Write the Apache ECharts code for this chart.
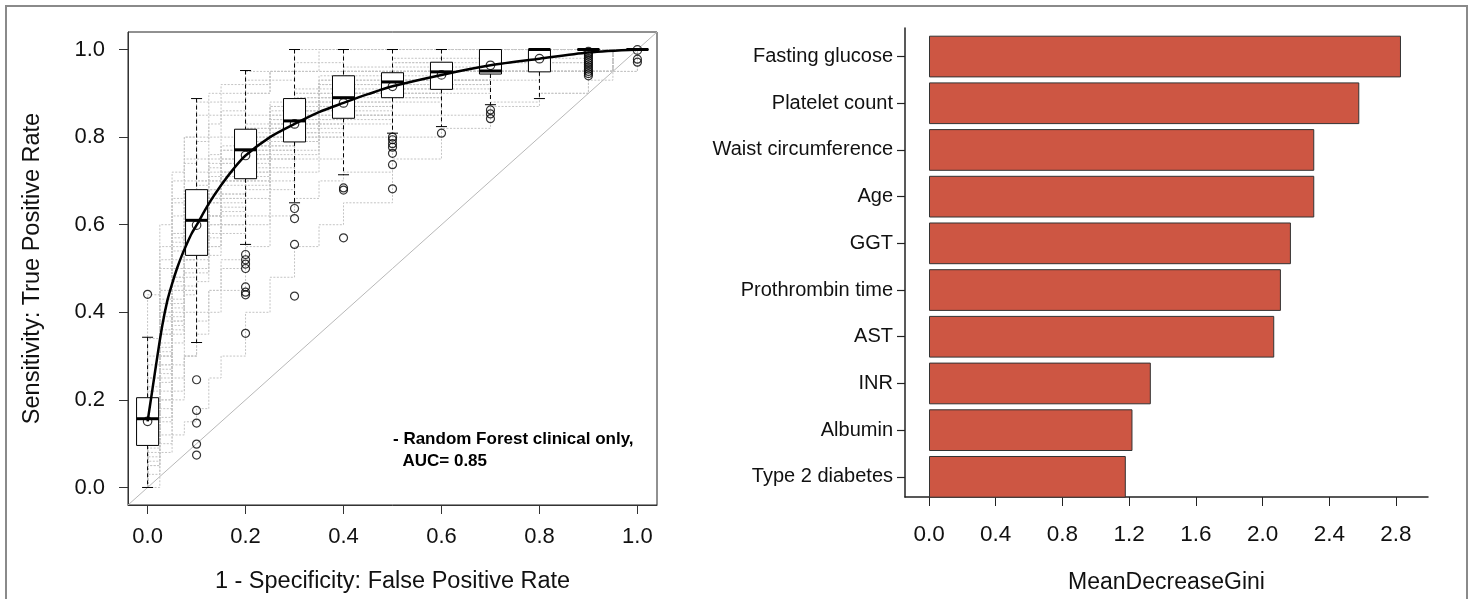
<!DOCTYPE html>
<html><head><meta charset="utf-8">
<script src="https://cdn.jsdelivr.net/npm/echarts@6/dist/echarts.min.js"></script>
<style>html,body{margin:0;padding:0;background:#fff}#c{width:1473px;height:599px}</style>
</head><body><div id="c"></div>
<script>
// ---------- Data ----------
const rocFpr = [0,0.025,0.05,0.075,0.1,0.125,0.15,0.2,0.25,0.3,0.35,0.4,0.5,0.6,0.7,0.8,0.9,0.95,1];
const rocTpr = [
  [.15,.35,.50,.58,.62,.68,.72,.78,.82,.85,.88,.90,.93,.95,.95,1,1,1,1],
  [.10,.25,.40,.50,.55,.60,.65,.72,.78,.80,.83,.85,.90,.92,.95,.95,1,1,1],
  [.20,.40,.55,.62,.68,.72,.75,.80,.85,.88,.92,.95,.95,.95,.95,.95,.95,1,1],
  [.05,.18,.33,.45,.53,.58,.62,.70,.75,.79,.82,.85,.89,.92,.95,1,1,1,1],
  [.25,.45,.62,.70,.75,.80,.85,.90,.95,.95,.95,.95,.95,.95,.95,.95,.95,1,1],
  [0,.10,.20,.30,.40,.45,.50,.60,.68,.72,.75,.80,.85,.90,.93,.95,1,1,1],
  [.16,.30,.45,.55,.60,.65,.70,.76,.80,.84,.87,.90,.92,.95,1,1,1,1,1],
  [.34,.55,.70,.80,.88,.90,.92,.95,.95,1,1,1,1,1,1,1,1,1,1],
  [.12,.28,.42,.52,.58,.62,.66,.74,.79,.83,.86,.89,.93,.95,.95,.95,.95,1,1],
  [.08,.15,.25,.30,.35,.40,.45,.55,.62,.66,.70,.72,.80,.85,.88,.90,.95,.95,1],
  [.18,.38,.52,.60,.65,.70,.74,.80,.84,.87,.90,.93,.95,.97,1,1,1,1,1],
  [.22,.42,.58,.65,.70,.75,.78,.82,.87,.90,.93,.95,.97,1,1,1,1,1,1],
  [.05,.08,.12,.15,.18,.25,.30,.40,.48,.55,.60,.65,.75,.82,.87,.90,.93,.95,1],
  [.44,.60,.72,.80,.85,.88,.90,.93,.95,.95,.95,.95,.95,.95,.95,.95,.95,1,1],
  [.13,.32,.48,.57,.61,.66,.70,.77,.82,.85,.88,.90,.93,.95,.97,1,1,1,1],
  [.10,.22,.36,.46,.52,.57,.63,.71,.77,.81,.85,.88,.92,.95,.95,.95,.95,1,1],
  [.18,.36,.50,.60,.66,.70,.74,.79,.83,.86,.89,.91,.94,.96,1,1,1,1,1],
  [.28,.50,.65,.75,.80,.85,.88,.92,.95,.97,1,1,1,1,1,1,1,1,1],
  [.15,.30,.43,.52,.57,.62,.67,.75,.80,.84,.87,.90,.95,.95,.95,.95,.95,1,1],
  [.09,.20,.35,.48,.56,.62,.66,.72,.77,.80,.84,.87,.91,.93,.95,.98,1,1,1],
  [.20,.35,.48,.57,.63,.68,.72,.77,.81,.85,.89,.92,.95,.95,.95,.95,.95,1,1],
  [.15,.28,.38,.45,.50,.55,.60,.68,.73,.77,.80,.83,.88,.91,.95,1,1,1,1],
  [.25,.45,.58,.66,.72,.76,.80,.85,.88,.91,.94,.96,.98,1,1,1,1,1,1],
  [.03,.12,.22,.30,.38,.45,.52,.62,.70,.75,.80,.84,.89,.93,.95,.95,.95,1,1],
  [.12,.30,.45,.55,.62,.67,.72,.78,.83,.86,.89,.92,.95,.95,.95,.95,.95,1,1],
  [.20,.40,.56,.65,.70,.74,.77,.83,.87,.90,.92,.95,.97,1,1,1,1,1,1],
  [.07,.20,.38,.50,.57,.62,.67,.73,.78,.82,.85,.88,.92,.95,.95,1,1,1,1],
  [.17,.33,.47,.56,.61,.66,.70,.76,.82,.86,.90,.93,.95,.95,.95,.95,.95,1,1],
  [.30,.52,.66,.74,.79,.83,.86,.90,.93,.95,.97,1,1,1,1,1,1,1,1],
  [.10,.26,.41,.52,.60,.65,.69,.75,.80,.83,.87,.90,.93,.95,.97,.97,1,1,1],
  [.14,.27,.37,.44,.49,.55,.60,.69,.75,.79,.83,.86,.90,.93,.95,.95,.95,1,1],
  [.19,.39,.54,.63,.68,.71,.75,.81,.85,.89,.93,.95,.95,.95,.95,.95,.95,1,1],
  [.06,.16,.28,.40,.47,.53,.58,.66,.72,.76,.81,.85,.90,.93,.95,.97,1,1,1],
  [.23,.43,.57,.64,.69,.73,.77,.82,.86,.89,.91,.94,.96,.98,1,1,1,1,1],
  [.16,.31,.46,.56,.62,.66,.71,.78,.84,.88,.92,.95,.95,.95,.95,.95,.95,1,1],
  [.11,.24,.39,.49,.55,.60,.64,.70,.76,.81,.84,.87,.91,.95,.95,.95,.95,1,1]
];
const boxFpr    = [0,0.1,0.2,0.3,0.4,0.5,0.6,0.7,0.8,0.9,1.0];
const boxLow    = [0,0.331,0.555,0.650,0.714,0.809,0.824,0.874,0.888,1,1];
const boxQ1     = [0.096,0.530,0.705,0.789,0.843,0.890,0.909,0.944,0.949,1,1];
const boxMedian = [0.157,0.610,0.771,0.837,0.890,0.926,0.949,0.951,1,1,1];
const boxQ3     = [0.205,0.680,0.818,0.888,0.940,0.947,0.971,1,1,1,1];
const boxHigh   = [0.343,0.888,0.952,1,1,1,1,1,1,1,1];
const meanTpr   = [0.151,0.599,0.758,0.830,0.878,0.916,0.942,0.964,0.979,0.995,0.999];
const outlierFpr = [0, 0.1,0.1,0.1,0.1,0.1, 0.2,0.2,0.2,0.2,0.2,0.2,0.2,0.2, 0.3,0.3,0.3,0.3, 0.4,0.4,0.4,
  0.5,0.5,0.5,0.5,0.5,0.5,0.5, 0.6, 0.7,0.7,0.7, 0.9,0.9,0.9,0.9,0.9,0.9,0.9,0.9,0.9,0.9,0.9, 1.0,1.0];
const outlierTpr = [0.441, 0.246,0.176,0.147,0.099,0.074, 0.532,0.520,0.510,0.500,0.458,0.446,0.440,0.352,
  0.637,0.614,0.555,0.437, 0.684,0.679,0.570, 0.800,0.794,0.785,0.777,0.763,0.737,0.682, 0.809,
  0.862,0.853,0.842, 0.940,0.945,0.950,0.955,0.960,0.965,0.970,0.975,0.980,0.985,0.990, 0.978,0.971];
const meanCurveFpr = [0,0.01,0.02,0.03,0.04,0.05,0.06,0.07,0.08,0.09,0.1,0.125,0.15,0.175,0.2,0.25,0.3,0.35,0.4,0.45,0.5,0.6,0.7,0.8,0.9,1.0];
const meanCurveTpr = [0.151,0.225,0.30,0.37,0.425,0.465,0.50,0.53,0.556,0.58,0.599,0.648,0.69,0.727,0.758,0.80,0.830,0.857,0.878,0.898,0.916,0.942,0.964,0.979,0.993,1.0];
const diagonal = [-0.04, 1.04];
const rocTicks = [0,0.2,0.4,0.6,0.8,1.0];

const features = ['Fasting glucose','Platelet count','Waist circumference','Age','GGT','Prothrombin time','AST','INR','Albumin','Type 2 diabetes'];
const giniValues = [2.83,2.58,2.31,2.31,2.17,2.11,2.07,1.33,1.22,1.18];
const giniTicks = [0,0.4,0.8,1.2,1.6,2.0,2.4,2.8];

// ---------- Style ----------
const FF = 'Liberation Sans, Arial, Helvetica, sans-serif';
const TXT = '#111';
const BOX_W = 0.045;

const chart = echarts.init(document.getElementById('c'), null, {renderer:'canvas'});

const rocSeries = rocTpr.map(t => ({
  type:'line', xAxisIndex:0, yAxisIndex:0,
  data: [[0,0]].concat(rocFpr.map((f,j)=>[f,t[j]])),
  step:'end', symbol:'none', silent:true, z:1,
  lineStyle:{color:'#c4c4c4', width:1, type:[2,1.5]}
}));

const option = {
  animation:false,
  backgroundColor:'#fff',
  title:{
    text:'- Random Forest clinical only,\n  AUC= 0.85',
    left:393, top:428, padding:0,
    textStyle:{fontFamily:FF, fontSize:17, fontWeight:'bold', lineHeight:22, color:'#000'}
  },
  graphic:[{type:'rect', shape:{x:6,y:6,width:1461,height:640}, style:{fill:'none', stroke:'#8a8a8a', lineWidth:2}, silent:true}],
  grid:[
    {left:128, top:32, width:529, height:474.7, show:true, borderColor:'#222', borderWidth:1, backgroundColor:'transparent'},
    {left:905, top:28, width:523, height:475},
    {left:905, top:33.2, width:523, height:467}
  ],
  xAxis:[
    {gridIndex:0, type:'value', min:-0.04, max:1.04,
     axisLine:{show:true, onZero:false, lineStyle:{color:'#333', width:1}},
     axisTick:{show:true, length:9, customValues:rocTicks, lineStyle:{color:'#333'}},
     axisLabel:{customValues:rocTicks, formatter:v=>v.toFixed(1), fontFamily:FF, fontSize:22, color:TXT, margin:21},
     splitLine:{show:false},
     name:'1 - Specificity: False Positive Rate', nameLocation:'middle', nameGap:65,
     nameTextStyle:{fontFamily:FF, fontSize:23.5, color:TXT}},
    {gridIndex:1, type:'value', min:-0.144, max:2.992,
     axisLine:{show:true, onZero:false, lineStyle:{color:'#222', width:1.5}},
     axisTick:{show:true, length:9, customValues:giniTicks, lineStyle:{color:'#222'}},
     axisLabel:{customValues:giniTicks, formatter:v=>v.toFixed(1), fontFamily:FF, fontSize:22.5, color:TXT, margin:26},
     splitLine:{show:false},
     name:'MeanDecreaseGini', nameLocation:'middle', nameGap:74,
     nameTextStyle:{fontFamily:FF, fontSize:23, color:TXT}},
    {gridIndex:2, type:'value', min:-0.144, max:2.992, show:false, axisLine:{onZero:false}, splitLine:{show:false}}
  ],
  yAxis:[
    {gridIndex:0, type:'value', min:-0.04, max:1.04,
     axisLine:{show:true, onZero:false, lineStyle:{color:'#333', width:1}},
     axisTick:{show:true, length:9, customValues:rocTicks, lineStyle:{color:'#333'}},
     axisLabel:{customValues:rocTicks, formatter:v=>v.toFixed(1), fontFamily:FF, fontSize:22, color:TXT, margin:23},
     splitLine:{show:false},
     name:'Sensitivity: True Positive Rate', nameLocation:'middle', nameGap:83,
     nameTextStyle:{fontFamily:FF, fontSize:23.5, color:TXT}},
    {gridIndex:1, type:'value', min:0, max:1,
     axisLine:{show:true, onZero:false, lineStyle:{color:'#222', width:1.5}},
     axisTick:{show:false}, axisLabel:{show:false}, splitLine:{show:false}},
    {gridIndex:2, type:'category', data:features, inverse:true,
     axisLine:{show:false, onZero:false},
     axisTick:{show:true, alignWithLabel:true, length:8, interval:0, lineStyle:{color:'#222', width:1.2}},
     axisLabel:{interval:0, fontFamily:FF, fontSize:20, color:TXT, margin:12},
     splitLine:{show:false}}
  ],
  series: rocSeries.concat([
    {type:'line', xAxisIndex:0, yAxisIndex:0, data:[[diagonal[0],diagonal[0]],[diagonal[1],diagonal[1]]],
     symbol:'none', silent:true, z:2, lineStyle:{color:'#b8b8b8', width:1}},
    {type:'custom', xAxisIndex:0, yAxisIndex:0, z:3, silent:true,
     encode:{x:0, y:[1,2,3,4,5]},
     data: boxFpr.map((x,i)=>[x, boxLow[i], boxQ1[i], boxMedian[i], boxQ3[i], boxHigh[i]]),
     renderItem:function(params, api){
       const x = api.value(0);
       const lo = api.coord([x, api.value(1)]);
       const q1 = api.coord([x, api.value(2)]);
       const md = api.coord([x, api.value(3)]);
       const q3 = api.coord([x, api.value(4)]);
       const hi = api.coord([x, api.value(5)]);
       const w = api.size([BOX_W, 0])[0];
       const cx = lo[0], c = w/4;
       const dash = {stroke:'#000', lineWidth:1, lineDash:[4,3], fill:null};
       const solid = {stroke:'#000', lineWidth:1, fill:null};
       return {type:'group', children:[
         {type:'line', shape:{x1:cx,y1:hi[1],x2:cx,y2:q3[1]}, style:dash},
         {type:'line', shape:{x1:cx,y1:q1[1],x2:cx,y2:lo[1]}, style:dash},
         {type:'line', shape:{x1:cx-c,y1:hi[1],x2:cx+c,y2:hi[1]}, style:solid},
         {type:'line', shape:{x1:cx-c,y1:lo[1],x2:cx+c,y2:lo[1]}, style:solid},
         {type:'rect', shape:{x:cx-w/2,y:q3[1],width:w,height:q1[1]-q3[1]}, style:{fill:'#fff', stroke:'#000', lineWidth:1}},
         {type:'line', shape:{x1:cx-w/2,y1:md[1],x2:cx+w/2,y2:md[1]}, style:{stroke:'#000', lineWidth:3, fill:null}}
       ]};
     }},
    {type:'line', xAxisIndex:0, yAxisIndex:0, data: meanCurveFpr.map((f,i)=>[f, meanCurveTpr[i]]),
     smooth:0.3, symbol:'none', silent:true, z:4, lineStyle:{color:'#000', width:2.5}},
    {type:'scatter', xAxisIndex:0, yAxisIndex:0, data: boxFpr.map((f,i)=>[f, meanTpr[i]]),
     symbol:'circle', symbolSize:8.5, silent:true, z:5,
     itemStyle:{color:'rgba(0,0,0,0)', borderColor:'#000', borderWidth:1.2}},
    {type:'scatter', xAxisIndex:0, yAxisIndex:0, data: outlierFpr.map((f,i)=>[f, outlierTpr[i]]),
     symbol:'circle', symbolSize:8, silent:true, z:5,
     itemStyle:{color:'rgba(0,0,0,0)', borderColor:'#000', borderWidth:1.2}},
    {type:'bar', xAxisIndex:2, yAxisIndex:2, data:giniValues, barCategoryGap:'10.7%', silent:true,
     itemStyle:{color:'#CD5643', borderColor:'#333', borderWidth:1}}
  ])
};
chart.setOption(option);
</script>
</body></html>
